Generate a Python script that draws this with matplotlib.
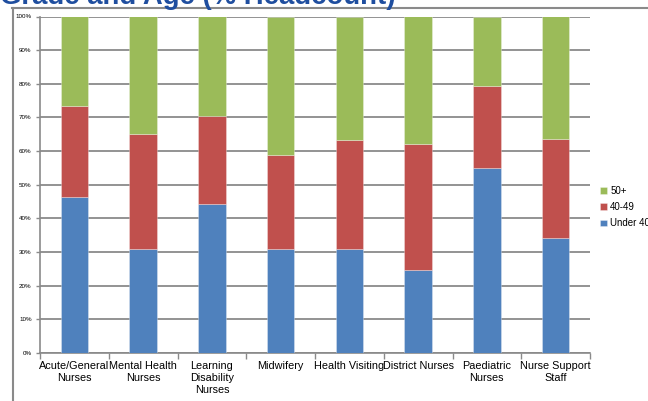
import matplotlib
matplotlib.use("Agg")
import matplotlib.pyplot as plt
from matplotlib.lines import Line2D
import numpy as np

categories = ["Acute/General\nNurses", "Mental Health\nNurses", "Learning\nDisability\nNurses",
              "Midwifery", "Health Visiting", "District Nurses", "Paediatric\nNurses",
              "Nurse Support\nStaff"]
under40 = [46.4, 30.8, 44.4, 30.8, 30.8, 24.8, 55.1, 34.3]
age40_49 = [27.0, 34.4, 26.1, 28.0, 32.6, 37.4, 24.2, 29.2]
age50plus = [100 - a - b for a, b in zip(under40, age40_49)]
series_names = ["Under 40", "40-49", "50+"]
colors = ["#4F81BD", "#C0504D", "#9BBB59"]
yticks = list(range(0, 101, 10))
ytick_labels = [f"{t}%" for t in yticks]
title = "Grade and Age (% Headcount)"

plt.rcParams['font.family'] = ['Liberation Sans', 'DejaVu Sans']
fig = plt.figure(figsize=(6.48, 4.01), dpi=100)
W, H = 648, 401
ax = fig.add_axes([40 / W, 1 - 353 / H, 550 / W, (353 - 16.5) / H])

x = np.arange(len(categories))
bottom = np.zeros(len(categories))
handles = []
for name, vals, c in zip(series_names, [under40, age40_49, age50plus], colors):
    b = ax.bar(x, vals, width=0.4, bottom=bottom, color=c, label=name,
               edgecolor=(1, 1, 1, 0.35), linewidth=0.6, zorder=3)
    handles.append(b)
    bottom += np.array(vals)

ax.set_xlim(-0.5, len(categories) - 0.5)
ax.set_ylim(0, 100)
ax.set_yticks(yticks)
ax.set_yticklabels(ytick_labels, fontsize=4.5)
ax.yaxis.grid(True, color="#8a8a8a", linewidth=1.3, zorder=0)
ax.set_axisbelow(True)

ax.set_xticks(x)
ax.set_xticklabels(categories, fontsize=7.8, linespacing=1.25)
ax.tick_params(axis='x', which='major', length=0, pad=6)
ax.set_xticks(np.arange(-0.5, len(categories), 1), minor=True)
ax.tick_params(axis='x', which='minor', length=4, color="#8a8a8a", width=1)
ax.tick_params(axis='y', length=3, color="#8a8a8a", width=1, pad=3)

for s in ['top', 'right']:
    ax.spines[s].set_visible(False)
for s in ['left', 'bottom']:
    ax.spines[s].set_color("#8a8a8a")
    ax.spines[s].set_linewidth(1.2)

leg = ax.legend(handles[::-1], series_names[::-1], loc='center left',
                bbox_to_anchor=(600 / W, 1 - 207 / H), bbox_transform=fig.transFigure,
                frameon=False, fontsize=7, handlelength=0.7, handleheight=0.7,
                handletextpad=0.35, labelspacing=0.65, borderaxespad=0, borderpad=0)

# outer frame lines
fig.add_artist(Line2D([12.5 / W, 12.5 / W], [0, 1 - 7.5 / H], transform=fig.transFigure,
                      color="#8a8a8a", linewidth=1.5))
fig.add_artist(Line2D([12 / W, 1], [1 - 7.5 / H, 1 - 7.5 / H], transform=fig.transFigure,
                      color="#8a8a8a", linewidth=1.5))

fig.text(0, 1 - 4 / H, title, fontsize=19.8, fontweight='bold', color="#1F4E9F",
         va='baseline', ha='left')

fig.savefig("out.png", dpi=100)
